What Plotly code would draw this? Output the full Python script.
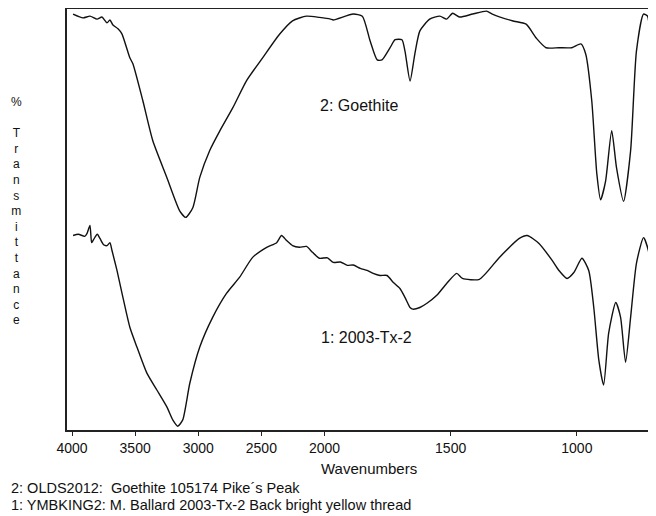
import plotly.graph_objects as go

# trace 2: reference goethite (wavenumber cm-1, %T arbitrary)
wn_goethite = [3992, 3913, 3858, 3802, 3763, 3723, 3700, 3676, 3636, 3605, 3542, 3518, 3439, 3360,
               3249, 3146, 3099, 3043, 2988, 2909, 2830, 2727, 2617, 2490, 2356, 2253, 2142, 2040,
               1976, 1965, 1886, 1850, 1819, 1791, 1772, 1740, 1720, 1693, 1681, 1661, 1642, 1622,
               1583, 1543, 1516, 1492, 1465, 1413, 1358, 1335, 1256, 1201, 1161, 1122, 1071, 1020,
               984, 965, 941, 921, 906, 886, 862, 843, 815, 787, 764, 736, 720, 705, 693]
t_goethite = [98.8, 97.9, 98.3, 97.6, 98.1, 96.7, 97.4, 96.2, 95.3, 94.1, 88.4, 87.0, 78.2, 68.7,
              60.0, 52.0, 50.5, 52.8, 60.0, 66.4, 71.0, 76.5, 83.0, 88.4, 94.0, 97.2, 98.3, 98.0,
              97.6, 97.4, 98.8, 98.3, 92.4, 87.9, 87.9, 90.8, 92.7, 92.7, 90.0, 82.9, 89.3, 94.8,
              97.6, 98.3, 97.6, 99.0, 98.1, 98.8, 99.5, 98.8, 97.2, 96.4, 93.1, 90.8, 90.8, 90.8,
              91.7, 89.3, 78.2, 60.9, 54.7, 59.2, 71.1, 62.3, 54.3, 66.4, 90.0, 98.8, 98.3, 90.0, 82.2]

# trace 1: sample 2003-Tx-2
wn_sample = [3992, 3950, 3900, 3881, 3858, 3845, 3834, 3800, 3779, 3750, 3723, 3700, 3684, 3644,
             3597, 3542, 3486, 3407, 3328, 3249, 3202, 3162, 3123, 3067, 2988, 2885, 2775, 2672,
             2569, 2458, 2379, 2340, 2300, 2253, 2198, 2142, 2095, 2040, 1988, 1965, 1937, 1909,
             1886, 1858, 1831, 1807, 1780, 1752, 1728, 1701, 1681, 1661, 1650, 1622, 1594, 1555,
             1516, 1476, 1453, 1386, 1307, 1228, 1197, 1150, 1098, 1071, 1039, 1012, 980, 953,
             933, 913, 894, 874, 846, 827, 807, 787, 764, 736, 717, 697]
t_sample = [46.2, 46.5, 46.0, 46.7, 48.6, 44.5, 45.0, 46.5, 45.5, 44.0, 43.8, 44.5, 42.7, 37.9,
            31.5, 24.4, 19.7, 13.5, 9.5, 5.5, 2.4, 0.9, 2.4, 11.1, 19.7, 26.8, 32.5, 36.3,
            41.0, 43.4, 44.5, 46.2, 45.0, 43.8, 43.4, 43.6, 42.2, 40.8, 40.9, 39.8, 39.9, 39.1,
            39.2, 38.4, 37.9, 37.2, 36.7, 36.7, 35.1, 33.6, 31.5, 29.1, 28.7, 29.1, 30.1, 32.0,
            34.8, 37.2, 36.0, 35.8, 41.0, 45.5, 46.2, 44.3, 40.3, 37.9, 36.0, 37.4, 40.8, 37.9,
            29.1, 16.6, 10.7, 23.0, 30.3, 26.8, 16.1, 26.8, 39.6, 45.7, 42.7, 33.2]

tick_wn = [4000, 3500, 3000, 2500, 2000, 1500, 1000]
tick_text = ['4000', '3500', '3000', '2500', '2000', '1500', '1000']


def axis_pos(w):
    # spectrometer plot: scale expanded 2x below 2000 cm-1
    return w if w >= 2000 else 2 * w - 2000


FONT = 'Liberation Sans, Arial, sans-serif'

fig = go.Figure()
for wn, t in [(wn_goethite, t_goethite), (wn_sample, t_sample)]:
    fig.add_trace(go.Scatter(x=[axis_pos(w) for w in wn], y=t, mode='lines',
                             line=dict(color='#111111', width=1.4, shape='spline', smoothing=0.6),
                             showlegend=False, hoverinfo='skip'))

# page body adds an 8px margin, so the figure is 8px smaller than the window
fig.update_layout(
    width=648, height=508,
    margin=dict(l=59, r=0, t=1, b=86),
    paper_bgcolor='white', plot_bgcolor='white',
    font=dict(family=FONT, color='#111111'),
)
fig.update_xaxes(range=[4040, -627], tickvals=[axis_pos(w) for w in tick_wn], ticktext=tick_text,
                 showgrid=False, zeroline=False, showline=True, linecolor='#222222', linewidth=1.5,
                 mirror=True, ticks='outside', ticklen=4, tickcolor='#222222',
                 tickfont=dict(size=14, family=FONT, color='#111111'))
fig.update_yaxes(range=[0, 100], showgrid=False, zeroline=False, showticklabels=False,
                 showline=True, linecolor='#222222', linewidth=1.5, mirror=False)

ylabel = '%<br><br>' + '<br>'.join('Transmittance')
notes = [
    dict(x=0.496, y=0.770, text='2: Goethite', size=16, xanchor='center'),
    dict(x=0.509, y=0.220, text='1: 2003-Tx-2', size=16, xanchor='center'),
    dict(x=-0.085, y=0.521, text=ylabel, size=12, xanchor='center'),
    dict(x=0.513, y=-0.092, text='Wavenumbers', size=15, xanchor='center'),
    dict(x=-0.0985, y=-0.137, text='2: OLDS2012:  Goethite 105174 Pike´s Peak', size=14.5, xanchor='left'),
    dict(x=-0.0985, y=-0.177, text='1: YMBKING2: M. Ballard 2003-Tx-2 Back bright yellow thread', size=14.5,
         xanchor='left'),
]
for n in notes:
    fig.add_annotation(x=n['x'], y=n['y'], xref='paper', yref='paper', text=n['text'], showarrow=False,
                       xanchor=n['xanchor'], yanchor='middle', align='center',
                       font=dict(size=n['size'], family=FONT, color='#111111'))

fig.write_html('out.html')
